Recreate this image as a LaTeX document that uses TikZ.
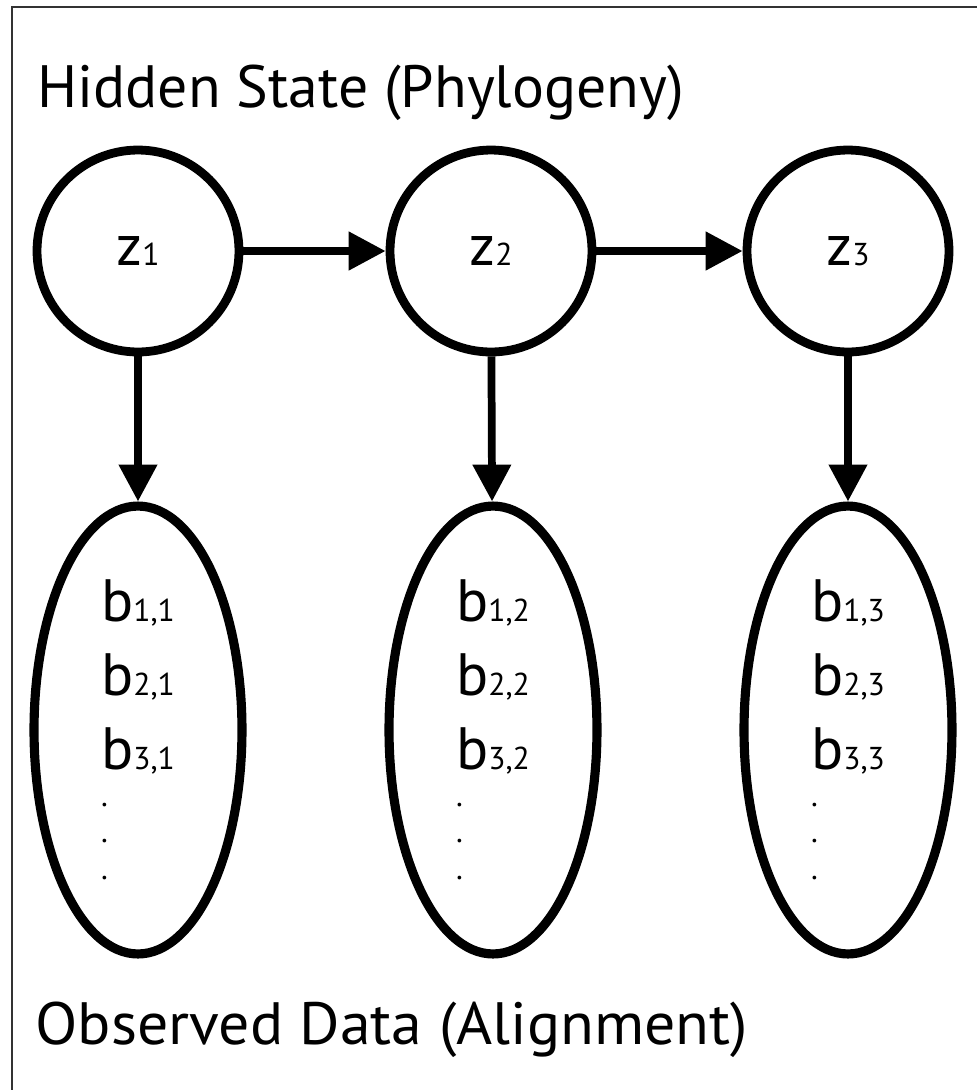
\documentclass[tikz,border=0pt]{standalone}
\usepackage{fontspec}
\setmainfont{PT Sans}
\usetikzlibrary{arrows.meta,shapes.geometric}
\newcommand\smallidx[1]{{\fontsize{18}{18}\selectfont #1}}
\tikzset{
  hidden/.style={circle,draw,line width=5pt,fill=white,minimum size=4.04cm,inner sep=0pt,
    font=\fontsize{33}{33}\selectfont},
  observed/.style={ellipse,draw,line width=5.2pt,fill=white,minimum width=4.16cm,minimum height=8.96cm,
    inner sep=0pt,align=left,font={\fontsize{34}{21}\selectfont\lineskiplimit=-100pt\lineskip=0pt}},
  link/.style={line width=4.4pt,-{Triangle[length=21pt,width=21pt]}},
  heading/.style={anchor=base west,inner sep=0pt,font=\fontsize{34}{40}\selectfont},
  frameline/.style={line width=1.2pt,color=black!80}
}
\begin{document}
\begin{tikzpicture}[x=0.02cm,y=-0.02cm]
\useasboundingbox (0,0) rectangle (977,1090);
\coordinate (ftr) at (977,7);
\coordinate (ftl) at (12,7);
\coordinate (fbl) at (12,1090);
\draw[frameline] (ftr) -- (ftl) -- (fbl);
\node[heading] (top) at (37,107) {Hidden State (Phylogeny)};
\node[heading,xscale=1.035] (bottom) at (35,1044) {Observed Data (Alignment)};
\node[hidden] (z1) at (138,251) {z\smallidx{1}};
\node[hidden] (z2) at (491,251) {z\smallidx{2}};
\node[hidden] (z3) at (848,251) {z\smallidx{3}};
\node[observed] (b1) at (138,730) {b\smallidx{1,1}\\[21pt]b\smallidx{2,1}\\[21pt]b\smallidx{3,1}\\\smallidx{.}\\\smallidx{.}\\\smallidx{.}};
\node[observed] (b2) at (493,730) {b\smallidx{1,2}\\[21pt]b\smallidx{2,2}\\[21pt]b\smallidx{3,2}\\\smallidx{.}\\\smallidx{.}\\\smallidx{.}};
\node[observed] (b3) at (848,730) {b\smallidx{1,3}\\[21pt]b\smallidx{2,3}\\[21pt]b\smallidx{3,3}\\\smallidx{.}\\\smallidx{.}\\\smallidx{.}};
\draw[link] (z1) -- (z2);
\draw[link] (z2) -- (z3);
\draw[link] (z1) -- (b1);
\draw[link] (z2) -- (b2);
\draw[link] (z3) -- (b3);
\end{tikzpicture}
\end{document}
